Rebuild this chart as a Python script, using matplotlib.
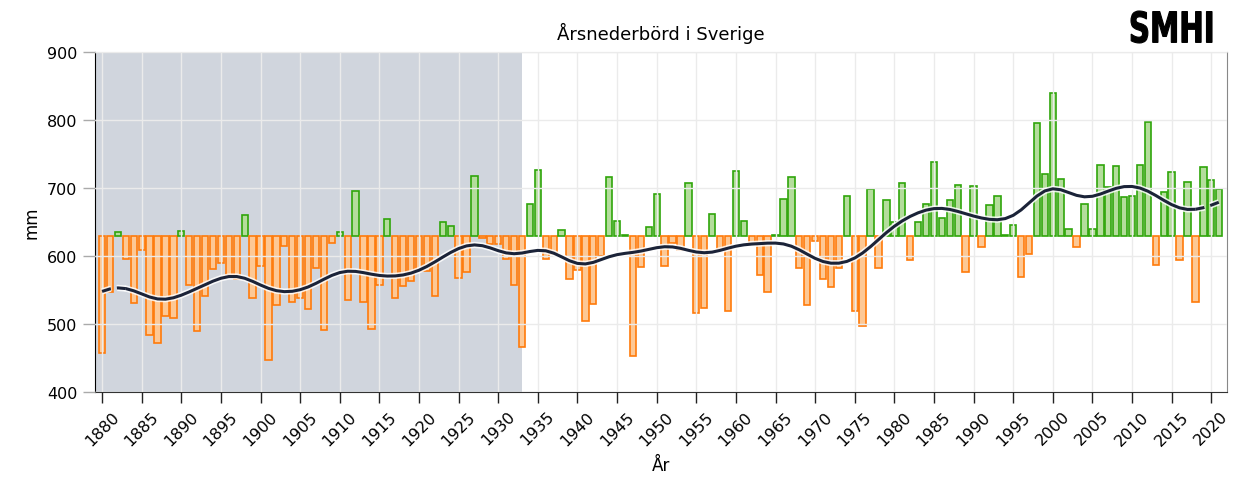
import numpy as np
import matplotlib
matplotlib.use("Agg")
import matplotlib.pyplot as plt
import matplotlib.patheffects as pe
from matplotlib.textpath import TextPath
from matplotlib.patches import PathPatch
from matplotlib.font_manager import FontProperties
from matplotlib.transforms import Affine2D, IdentityTransform

# annual precipitation Sweden (mm)
years = np.arange(1880, 2022)
precip = [
    457, 547, 636, 595, 531, 609, 484, 472, 512, 509,   # 1880-1889
    637, 558, 490, 541, 581, 590, 572, 566, 661, 538,   # 1890-1899
    586, 447, 528, 615, 532, 538, 523, 583, 492, 619,   # 1900-1909
    635, 535, 696, 532, 493, 557, 655, 539, 556, 563,   # 1910-1919
    578, 578, 541, 650, 644, 568, 576, 717, 627, 617,   # 1920-1929
    618, 596, 557, 466, 676, 727, 596, 603, 639, 567,   # 1930-1939
    579, 504, 529, 600, 716, 652, 631, 454, 584, 642,   # 1940-1949
    691, 586, 619, 609, 708, 517, 524, 662, 610, 519,   # 1950-1959
    725, 652, 619, 572, 547, 631, 684, 716, 583, 528,   # 1960-1969
    622, 566, 554, 582, 688, 519, 497, 698, 582, 683,   # 1970-1979
    650, 707, 594, 650, 677, 738, 656, 683, 705, 576,   # 1980-1989
    703, 614, 675, 688, 631, 645, 569, 603, 795, 721,   # 1990-1999
    840, 713, 640, 614, 677, 640, 733, 701, 732, 686,   # 2000-2009
    688, 734, 797, 587, 694, 724, 594, 709, 532, 731,   # 2010-2019
    712, 699,                                           # 2020-2021
]
precip = np.array(precip, dtype=float)
baseline = 630
shade_end = 1933

# gaussian filter (sigma 3 yr), kernel truncated at the ends
sigma = 3.0
smooth = np.zeros(len(years))
for i in range(len(years)):
    w = np.exp(-0.5 * ((years - years[i]) / sigma) ** 2)
    smooth[i] = np.sum(w * precip) / np.sum(w)

fig = plt.figure(figsize=(12.56, 5.02), dpi=100)
ax = fig.add_axes([0.0756, 0.2165, 0.9014, 0.6785])

ax.axvspan(1878, shade_end, color='#d0d5dd', zorder=0, lw=0)

above = precip >= baseline
fills = np.where(above, '#b4dd9c', '#fdc895')
edges = np.where(above, '#2fa50a', '#ff7a0a')
ax.bar(years, precip - baseline, bottom=baseline, width=0.8,
       color=fills, edgecolor=edges, linewidth=1.2, zorder=2)

halo = [pe.Stroke(linewidth=4.5, foreground='white', alpha=0.85), pe.Normal()]
inner = (years >= 1883) & (years <= 2018)
ax.plot(years[inner], smooth[inner], color='#1b2338', lw=2.2, zorder=3,
        path_effects=halo, solid_capstyle='round')
for sl in [years <= 1883, years >= 2018]:
    ax.plot(years[sl], smooth[sl], color='#1b2338', lw=2.2, ls=(0, (3, 2)),
            zorder=3, path_effects=halo)

ax.set_xlim(1879.1, 2022.0)
ax.set_ylim(400, 900)
ax.set_xticks(np.arange(1880, 2021, 5))
ax.set_yticks(np.arange(400, 901, 100))
ax.grid(True, color='#ebebeb', lw=1, zorder=1)
ax.set_axisbelow(False)
for l in ax.get_xgridlines() + ax.get_ygridlines():
    l.set_zorder(1)

ax.tick_params(axis='x', length=8, width=1, color='#222222', labelsize=11.5,
               labelrotation=45)
ax.tick_params(axis='y', length=9, width=1, color='#aaaaaa', labelsize=11.5)
for lab in ax.get_xticklabels():
    lab.set_ha('center')

ax.spines['left'].set_color('#000000')
ax.spines['bottom'].set_color('#333333')
ax.spines['top'].set_color('#cccccc')
ax.spines['right'].set_color('#888888')

ax.set_title('Årsnederbörd i Sverige', fontsize=13, pad=9)
ax.set_xlabel('År', fontsize=12, labelpad=6)
ax.set_ylabel('mm', fontsize=12, labelpad=5)

# SMHI logo: heavy text squeezed into its box (pixels, origin bottom-left)
tp = TextPath((0, 0), 'SMHI', size=40, prop=FontProperties(family='DejaVu Sans', weight='bold'))
ext = tp.get_extents()
lx0, lx1, ly0, ly1 = 1131, 1212, 458, 490
tr = (Affine2D().translate(-ext.x0, -ext.y0)
      .scale((lx1 - lx0) / ext.width, (ly1 - ly0) / ext.height)
      .translate(lx0, ly0))
logo = PathPatch(tr.transform_path(tp), facecolor='black', edgecolor='black',
                 lw=0.8, transform=IdentityTransform())
fig.patches.append(logo)

fig.savefig('out.png', dpi=100)
